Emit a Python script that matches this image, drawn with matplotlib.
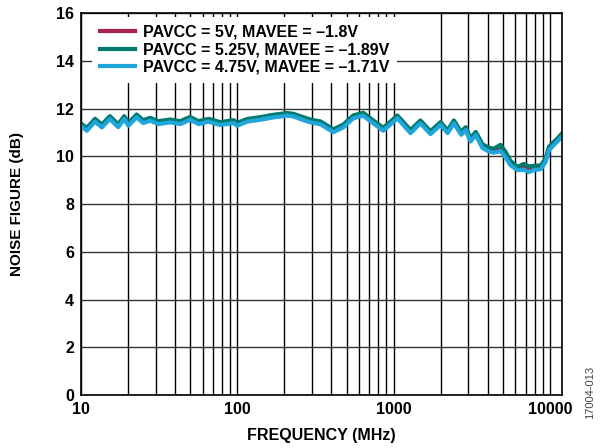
import matplotlib
matplotlib.use("Agg")
import matplotlib.pyplot as plt
from matplotlib.ticker import LogLocator, NullFormatter

plt.rcParams['font.family'] = ['Liberation Sans', 'DejaVu Sans']

# frequency (MHz) and noise figure (dB)
freq = [10, 10.9, 12.3, 13.6, 15.3, 17.3, 18.9, 20.1, 22.7, 25, 27.7, 31.2, 37.2,
        43.2, 49.9, 56.5, 65.5, 77.7, 94.9, 99.7, 115.5, 140.4, 170.6, 207.5, 229,
        253, 294, 341, 412, 477, 552, 640, 742, 860, 1058, 1284, 1486, 1723, 1998,
        2221, 2432, 2710, 2895, 3110, 3357, 3710, 4080, 4380, 4840, 5210, 5610,
        6210, 6820, 7330, 7900, 8760, 9390, 9870, 10600, 11400, 11900]

nf_5v = [11.31, 11.13, 11.51, 11.27, 11.62, 11.28, 11.62, 11.34, 11.69, 11.45, 11.55,
         11.41, 11.48, 11.41, 11.59, 11.41, 11.51, 11.37, 11.45, 11.34, 11.51, 11.59,
         11.69, 11.76, 11.73, 11.62, 11.48, 11.40, 11.07, 11.27, 11.65, 11.76, 11.44,
         11.13, 11.65, 11.03, 11.44, 10.99, 11.37, 11.03, 11.44, 10.96, 11.16, 10.68,
         10.95, 10.40, 10.27, 10.22, 10.30, 10.02, 9.70, 9.48, 9.52, 9.42, 9.49, 9.52,
         9.83, 10.32, 10.53, 10.74, 10.88]

nf_525v = [11.37, 11.19, 11.57, 11.33, 11.68, 11.34, 11.68, 11.40, 11.75, 11.51, 11.61,
           11.47, 11.54, 11.47, 11.65, 11.47, 11.57, 11.43, 11.51, 11.40, 11.56, 11.64,
           11.74, 11.81, 11.78, 11.68, 11.54, 11.46, 11.13, 11.33, 11.71, 11.82, 11.50,
           11.19, 11.71, 11.10, 11.50, 11.05, 11.43, 11.09, 11.50, 11.02, 11.22, 10.76,
           11.02, 10.50, 10.36, 10.32, 10.48, 10.18, 9.80, 9.56, 9.68, 9.58, 9.60, 9.62,
           9.90, 10.40, 10.60, 10.80, 10.94]

nf_475v = [11.25, 11.07, 11.45, 11.21, 11.56, 11.22, 11.56, 11.28, 11.63, 11.39, 11.49,
           11.35, 11.42, 11.35, 11.53, 11.35, 11.45, 11.31, 11.39, 11.28, 11.45, 11.53,
           11.63, 11.70, 11.67, 11.56, 11.42, 11.34, 11.01, 11.21, 11.59, 11.70, 11.38,
           11.07, 11.59, 10.97, 11.38, 10.93, 11.31, 10.97, 11.38, 10.90, 11.10, 10.62,
           10.89, 10.34, 10.20, 10.15, 10.22, 9.95, 9.62, 9.42, 9.44, 9.34, 9.42, 9.46,
           9.76, 10.25, 10.47, 10.68, 10.82]

labels = ['PAVCC = 5V, MAVEE = \u20131.8V',
          'PAVCC = 5.25V, MAVEE = \u20131.89V',
          'PAVCC = 4.75V, MAVEE = \u20131.71V']
colors = ['#A8234C', '#007A6C', '#20A6DA']
y_ticks = [0, 2, 4, 6, 8, 10, 12, 14, 16]

fig = plt.figure(figsize=(6, 4.48), dpi=100)
ax = fig.add_axes([0.135, 0.118, 0.802, 0.853])

for nf, lab, col in zip([nf_5v, nf_525v, nf_475v], labels, colors):
    ax.plot(freq, nf, color=col, lw=3.0, label=lab)

ax.set_xscale('log')
ax.set_xlim(10, 12000)
ax.set_ylim(0, 16)
ax.set_yticks(y_ticks)
ax.set_xticks([10, 100, 1000, 10000])
ax.set_xticklabels(['10', '100', '1000', '10000'])
ax.xaxis.set_minor_locator(LogLocator(base=10, subs=range(2, 10), numticks=20))
ax.xaxis.set_minor_formatter(NullFormatter())
ax.tick_params(which='both', length=0, labelsize=11.5, pad=5)
for t in ax.get_xticklabels() + ax.get_yticklabels():
    t.set_fontweight('bold')

ax.grid(which='major', axis='y', color='#333333', lw=1.0)
ax.grid(which='both', axis='x', color='black', lw=1.0)
ax.set_axisbelow(True)
for s in ax.spines.values():
    s.set_linewidth(1.2)

ax.set_xlabel('FREQUENCY (MHz)', fontsize=11.5, fontweight='bold', labelpad=8)
ax.set_ylabel('NOISE FIGURE (dB)', fontsize=11, fontweight='bold', labelpad=23)

leg = ax.legend(loc='upper left', bbox_to_anchor=(0.022, 0.99), frameon=True,
                facecolor='white', edgecolor='none', framealpha=1, fancybox=False,
                fontsize=11.5, handlelength=2.2, labelspacing=0.15,
                borderaxespad=0.0, borderpad=0.5, handletextpad=0.5)
for t in leg.get_texts():
    t.set_fontweight('bold')
for l in leg.get_lines():
    l.set_linewidth(3.0)

fig.text(0.983, 0.125, '17004-013', rotation=90, fontsize=8, color='#444444',
         ha='center', va='center')

fig.savefig('out.png', dpi=100)
